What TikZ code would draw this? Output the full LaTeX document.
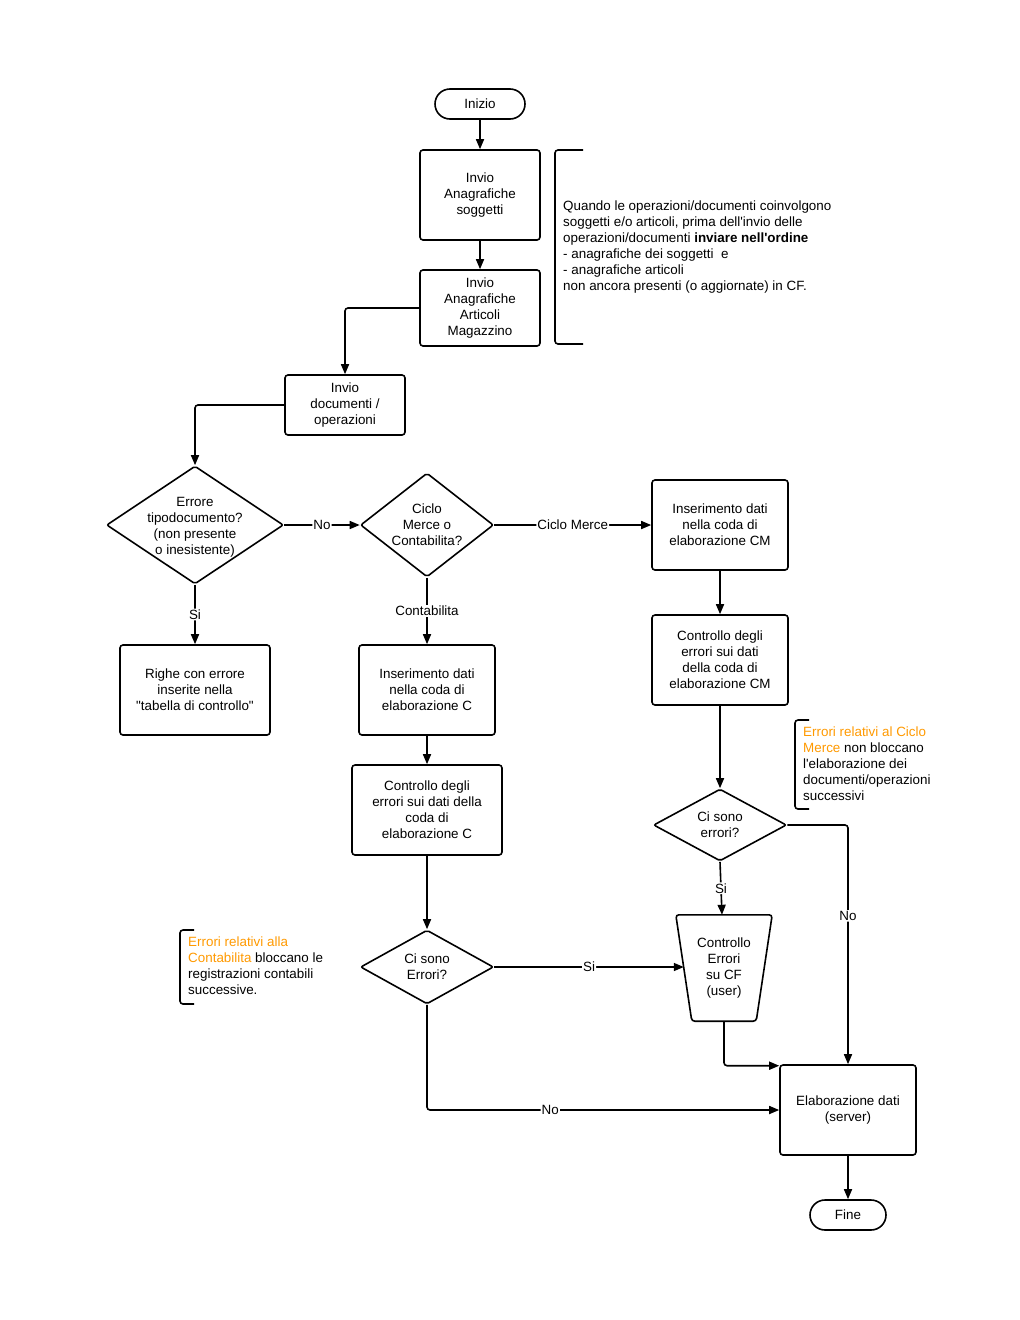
\documentclass[tikz,border=0pt]{standalone}
\usepackage{fontspec}
\setmainfont{Liberation Sans}[Ligatures=TeXOff]
\usetikzlibrary{shapes.geometric,arrows.meta,calc}
\definecolor{noteorange}{RGB}{255,153,0}
\begin{document}
\begin{tikzpicture}[x=1pt,y=-1pt,
  font=\fontsize{13.4}{16}\selectfont,
  every node/.style={align=center},
  box/.style={draw, line width=1.6pt, rounded corners=3pt, inner sep=0pt},
  term/.style={draw, line width=1.6pt, rounded corners=15pt, minimum height=30pt, inner sep=0pt},
  dia/.style={draw, diamond, line width=1.6pt, inner sep=0pt, rounded corners=2pt},
  con/.style={line width=1.6pt, rounded corners=3pt},
  arr/.style={con, -{Triangle[length=10pt,width=8pt]}},
  lbl/.style={fill=white, inner sep=1pt},
  note/.style={anchor=west, align=left, inner sep=0pt},
  brk/.style={line width=1.6pt, rounded corners=3pt},
]
\useasboundingbox (0,0) rectangle (1020,1320);

% nodes
\node[term, minimum width=90pt] (ini) at (480,104) {Inizio};
\node[box, minimum width=120pt, minimum height=90pt] (b1) at (480,195) {Invio\\Anagrafiche\\soggetti};
\node[box, minimum width=120pt, minimum height=76pt] (b2) at (480,308) {Invio\\Anagrafiche\\Articoli\\Magazzino};
\node[box, minimum width=120pt, minimum height=60pt] (b3) at (345,405) {Invio\\documenti /\\operazioni};
\node[dia, minimum width=177pt, minimum height=118pt,
  label={[align=center,yshift=-2pt]center:Errore\\tipodocumento?\\(non presente\\o inesistente)}] (d1) at (195,525) {};
\node[dia, minimum width=133pt, minimum height=104pt,
  label={[align=center]center:Ciclo\\Merce o\\Contabilita?}] (d2) at (427,525) {};
\node[box, minimum width=136pt, minimum height=90pt] (cm1) at (720,525) {Inserimento dati\\nella coda di\\elaborazione CM};
\node[box, minimum width=136pt, minimum height=90pt] (cm2) at (720,660) {Controllo degli\\errori sui dati\\della coda di\\elaborazione CM};
\node[dia, minimum width=133pt, minimum height=72pt,
  label={[align=center]center:Ci sono\\errori?}] (d3) at (720,825) {};
% trapezoid (manual shape around a text node)
\node[inner sep=0pt, minimum width=96pt, minimum height=106pt] (trap) at (724,968) {Controllo\\Errori\\su CF\\(user)};
\draw[line width=1.6pt, rounded corners=3pt] (trap.north west) -- (trap.north east)
  -- ($(trap.south east)+(-16,0)$) -- ($(trap.south west)+(16,0)$) -- cycle;
\coordinate (trapL) at ($(trap.west)+(8,0)$);
\coordinate (trapT) at ($(trap.north)+(-2,0)$);
\node[box, minimum width=136pt, minimum height=90pt] (elab) at (848,1110) {Elaborazione dati\\(server)};
\node[term, minimum width=76pt] (fine) at (848,1215) {Fine};
\node[box, minimum width=150pt, minimum height=90pt] (righe) at (195,690) {Righe con errore\\inserite nella\\"tabella di controllo"};
\node[box, minimum width=136pt, minimum height=90pt] (c1) at (427,690) {Inserimento dati\\nella coda di\\elaborazione C};
\node[box, minimum width=150pt, minimum height=90pt] (c2) at (427,810) {Controllo degli\\errori sui dati della\\coda di\\elaborazione C};
\node[dia, minimum width=133pt, minimum height=74pt,
  label={[align=center]center:Ci sono\\Errori?}] (d4) at (427,967) {};

% connectors
\draw[arr] (ini) -- (b1);
\draw[arr] (b1) -- (b2);
\draw[arr] (b2.west) -| (b3.north);
\draw[arr] (b3.west) -| (d1.north);
\draw[arr] (d1.east) -- node[lbl]{No} (d2.west);
\draw[arr] (d2.east) -- node[lbl]{Ciclo Merce} (cm1.west);
\draw[arr] (d2.south) -- node[lbl]{Contabilita} (c1.north);
\draw[arr] (d1.south) -- node[lbl]{Si} (righe.north);
\draw[arr] (cm1) -- (cm2);
\draw[arr] (cm2) -- (d3);
\draw[arr] (d3.south) -- node[lbl]{Si} (trapT);
\draw[arr] (d4.east) -- node[lbl]{Si} (d4.east -| trapL);
\draw[arr] (trap.south) |- ([yshift=-1.5pt]elab.north west);
\draw[arr] (d3.east) -- (d3.east -| elab.north) -- node[lbl,pos=0.38]{No} (elab.north);
\draw[arr] (c1) -- (c2);
\draw[arr] (c2) -- (d4);
\draw[arr] (d4.south) -- (d4.south |- elab.west) -- node[lbl,pos=0.35]{No} (elab.west);
\draw[arr] (elab) -- (fine);

% notes
\draw[brk] (583,150) -- (555,150) -- (555,344) -- (583,344);
\node[note] (n1) at (563,247) {Quando le operazioni/documenti coinvolgono\\soggetti e/o articoli, prima dell'invio delle\\operazioni/documenti \textbf{inviare nell'ordine}\\- anagrafiche dei soggetti\ \ e\\- anagrafiche articoli\\non ancora presenti (o aggiornate) in CF.};
\draw[brk] (809,720) -- (795,720) -- (795,809) -- (809,809);
\node[note] (n2) at (803,764) {\textcolor{noteorange}{Errori relativi al Ciclo}\\\textcolor{noteorange}{Merce} non bloccano\\l'elaborazione dei\\documenti/operazioni\\successivi};
\draw[brk] (194,930) -- (180,930) -- (180,1004) -- (194,1004);
\node[note] (n3) at (188,966) {\textcolor{noteorange}{Errori relativi alla}\\\textcolor{noteorange}{Contabilita} bloccano le\\registrazioni contabili\\successive.};
\end{tikzpicture}
\end{document}
